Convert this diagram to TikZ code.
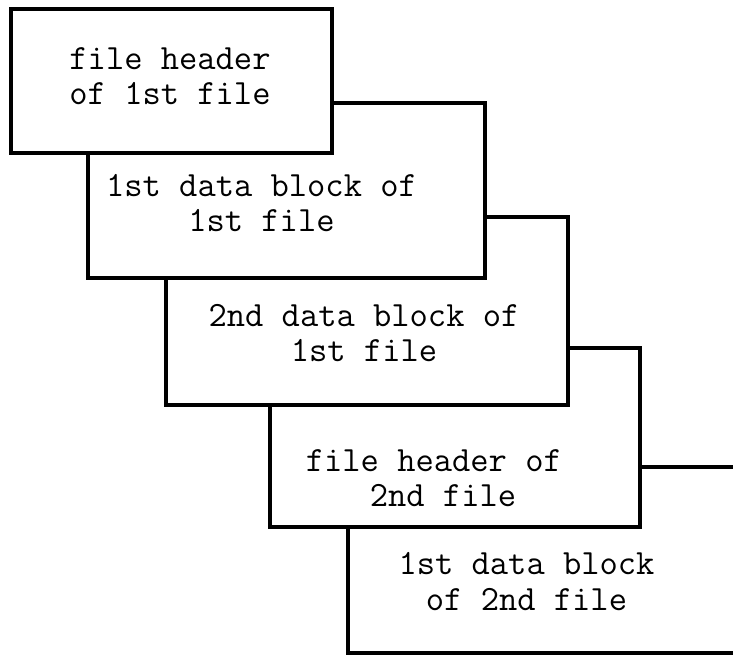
\documentclass[tikz,border=0pt]{standalone}
\usepackage{tikz}

\begin{document}
\begin{tikzpicture}[x=1pt,y=-1pt,
	blockbox/.style={draw,line width=3.3pt,fill=white},
	blocktext/.style={align=center,font=\ttfamily\fontsize{35.5}{35.5}\selectfont,inner sep=0pt}]
	\useasboundingbox (0,0) rectangle (733,655);
	\clip (0,0) rectangle (733,655);
	% back to front
	\draw[blockbox] (348,467) rectangle (770,653);
	\node[blocktext] (blk21) at (526.5,581.5) {1st data block\\of 2nd file};
	\draw[blockbox] (270,348) rectangle (640,527);
	\node[blocktext] (hdr2) at (443,478) {file header of\hphantom{x}\\2nd file};
	\draw[blockbox] (166,217) rectangle (568,405);
	\node[blocktext] (blk12) at (364,333) {2nd data block of\\1st file};
	\draw[blockbox] (88,103) rectangle (485,278);
	\node[blocktext] (blk11) at (261.5,203) {1st data block of\\1st file};
	\draw[blockbox] (11,9) rectangle (332,153);
	\node[blocktext] (hdr1) at (170,76) {file header\\of 1st file};
\end{tikzpicture}
\end{document}
